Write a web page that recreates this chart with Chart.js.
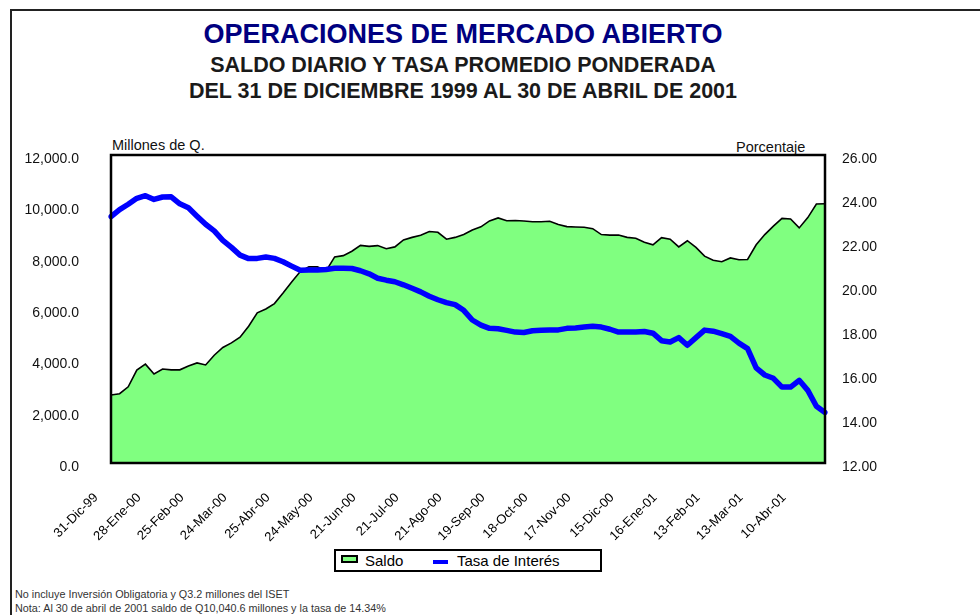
<!DOCTYPE html>
<html>
<head>
<meta charset="utf-8">
<script src="https://cdn.jsdelivr.net/npm/chart.js@4/dist/chart.umd.min.js"></script>
<style>
  html, body { margin: 0; padding: 0; background: #fff; }
  body { width: 980px; height: 615px; position: relative; overflow: hidden;
         font-family: "Liberation Sans", Arial, sans-serif; }
  .frame { position: absolute; left: 10px; top: 9px; width: 1000px; height: 700px;
           border-left: 2px solid #222; border-top: 2px solid #222; }
  .t { position: absolute; left: 0; width: 926px; text-align: center; font-weight: bold; white-space: nowrap; }
  #t1 { top: 21px; font-size: 27px; line-height: 27px; color: #000080; }
  #t2 { top: 54px; font-size: 21.5px; line-height: 22px; color: #1a1a1a; }
  #t3 { top: 80px; font-size: 21.5px; line-height: 22px; color: #1a1a1a; }
  .axt { position: absolute; font-size: 14.5px; line-height: 15px; color: #111; white-space: nowrap; }
  #c { position: absolute; left: 0; top: 130px; }
  .legend { position: absolute; left: 334px; top: 549px; width: 268px; height: 23px;
            box-sizing: border-box; border: 2px solid #000; background: #fff; }
  .sw1 { position: absolute; left: 5px; top: 4px; width: 17px; height: 8px; box-sizing: border-box;
         background: #80FF80; border: 2px solid #000; }
  .sw2 { position: absolute; left: 97px; top: 9px; width: 15px; height: 4px; background: #0000FF; }
  .lt { position: absolute; top: 1px; font-size: 15px; line-height: 17px; color: #000; white-space: nowrap; }
  .note { position: absolute; left: 15px; font-size: 10.8px; line-height: 12px; color: #333; white-space: nowrap; }
</style>
</head>
<body>
<div class="frame"></div>
<div class="t" id="t1">OPERACIONES DE MERCADO ABIERTO</div>
<div class="t" id="t2">SALDO DIARIO Y TASA PROMEDIO PONDERADA</div>
<div class="t" id="t3">DEL 31 DE DICIEMBRE 1999 AL 30 DE ABRIL DE 2001</div>
<div class="axt" style="left:112px; top:138px;">Millones de Q.</div>
<div class="axt" style="left:736px; top:140px;">Porcentaje</div>
<canvas id="c" width="980" height="420"></canvas>
<div class="legend">
  <div class="sw1"></div><div class="lt" style="left:29px;">Saldo</div>
  <div class="sw2"></div><div class="lt" style="left:121px;">Tasa de Interés</div>
</div>
<div class="note" style="top:588px;">No incluye Inversión Obligatoria y Q3.2 millones del ISET</div>
<div class="note" style="top:602px;">Nota: Al 30 de abril de 2001 saldo de Q10,040.6 millones y la tasa de 14.34%</div>
<script>
// Tick labels on the date axis (one every 20 business days)
const tickLabels = ["31-Dic-99","28-Ene-00","25-Feb-00","24-Mar-00","25-Abr-00","24-May-00",
  "21-Jun-00","21-Jul-00","21-Ago-00","19-Sep-00","18-Oct-00","17-Nov-00","15-Dic-00",
  "16-Ene-01","13-Feb-01","13-Mar-01","10-Abr-01"];
// Samples every 4 business days, 5 samples per tick interval
const samplesPerTick = 5;
// Saldo diario (millones de Q.)
const saldo = [2650,2700,2970,3620,3850,3470,3660,3630,3630,3780,
  3900,3820,4200,4500,4680,4900,5330,5850,6000,6210,
  6620,7050,7460,7640,7640,7480,8030,8080,8250,8480,
  8440,8470,8350,8420,8690,8790,8870,9020,8990,8720,
  8790,8900,9080,9200,9430,9550,9440,9450,9430,9400,
  9400,9420,9290,9210,9195,9185,9130,8900,8880,8880,
  8790,8760,8600,8500,8780,8720,8420,8660,8400,8060,
  7900,7840,7990,7920,7930,8500,8900,9230,9530,9510,
  9160,9560,10090,10100];
// Tasa promedio ponderada (%)
const tasa = [23.20,23.52,23.76,24.03,24.15,23.98,24.09,24.10,23.78,23.60,
  23.22,22.85,22.55,22.12,21.80,21.45,21.29,21.30,21.36,21.30,
  21.15,20.95,20.76,20.77,20.77,20.80,20.85,20.85,20.84,20.74,
  20.60,20.40,20.31,20.24,20.10,19.94,19.78,19.58,19.42,19.29,
  19.20,18.94,18.50,18.27,18.12,18.10,18.03,17.95,17.93,18.01,
  18.03,18.04,18.05,18.12,18.14,18.18,18.22,18.18,18.08,17.95,
  17.95,17.96,17.98,17.90,17.56,17.50,17.70,17.35,17.70,18.04,
  17.99,17.88,17.76,17.45,17.20,16.32,16.00,15.85,15.45,15.45,
  15.76,15.30,14.58,14.30];

const categories = saldo.map((_, i) => (i % samplesPerTick === 0 && tickLabels[i / samplesPerTick]) ? tickLabels[i / samplesPerTick] : '');

Chart.defaults.font.family = '"Liberation Sans", Arial, sans-serif';
Chart.defaults.color = '#000';

const framePlugin = {
  id: 'plotFrame',
  afterDatasetsDraw(chart) {
    const a = chart.chartArea, ctx = chart.ctx;
    ctx.save();
    ctx.strokeStyle = '#000';
    ctx.lineWidth = 2.5;
    ctx.strokeRect(a.left, a.top, a.right - a.left, a.bottom - a.top);
    ctx.restore();
  }
};

new Chart(document.getElementById('c'), {
  type: 'line',
  data: {
    labels: categories,
    datasets: [
      { label: 'Tasa de Interés', data: tasa, yAxisID: 'y1', borderColor: '#0000FF',
        borderWidth: 5.5, pointRadius: 0, fill: false, tension: 0, order: 1,
        borderJoinStyle: 'round', borderCapStyle: 'round' },
      { label: 'Saldo', data: saldo, yAxisID: 'y', borderColor: '#000000',
        backgroundColor: '#80FF80', borderWidth: 1.6, pointRadius: 0, fill: 'origin', tension: 0, order: 2 }
    ]
  },
  options: {
    responsive: false,
    animation: false,
    layout: { padding: { top: 25, left: 0, right: 0, bottom: 0 } },
    plugins: { legend: { display: false }, tooltip: { enabled: false } },
    scales: {
      x: {
        type: 'category',
        offset: false,
        grid: { display: false, drawTicks: false },
        border: { display: false },
        ticks: { autoSkip: false, maxRotation: 45, minRotation: 45, padding: 27, labelOffset: -15,
                 font: { size: 13 }, color: '#000' },
        afterFit: s => { s.height = 87; }
      },
      y: {
        position: 'left', min: 0, max: 12000,
        grid: { display: false, drawTicks: true, tickLength: 32 },
        border: { display: false },
        ticks: { stepSize: 2000, padding: 0, labelOffset: 4, font: { size: 14 }, color: '#111',
                 callback: v => v.toLocaleString('en-US', { minimumFractionDigits: 1, maximumFractionDigits: 1 }) },
        afterFit: s => { s.width = 111; }
      },
      y1: {
        position: 'right', min: 12, max: 26,
        grid: { display: false, drawTicks: true, tickLength: 17 },
        border: { display: false },
        ticks: { stepSize: 2, padding: 0, labelOffset: 4, font: { size: 14 }, color: '#111',
                 callback: v => v.toFixed(2) },
        afterFit: s => { s.width = 155; }
      }
    }
  },
  plugins: [framePlugin]
});
</script>
</body>
</html>
